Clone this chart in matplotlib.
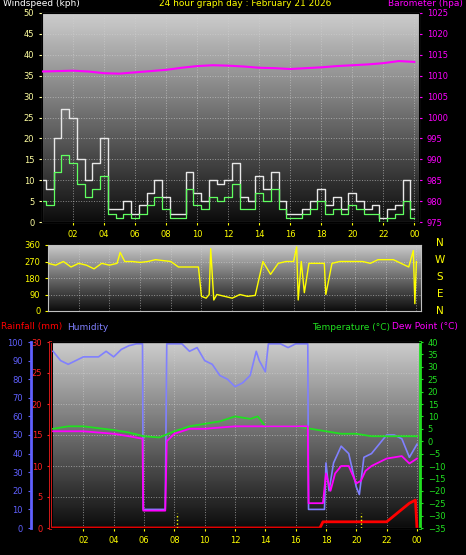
import numpy as np
import matplotlib.pyplot as plt

# ---- wind speed (kph), half-hour samples
wind_t = [i * 0.5 for i in range(49)]
gust = [10, 8, 20, 27, 25, 15, 10, 14, 20, 3, 3, 5, 2, 4, 7, 10, 6, 2, 2, 12,
        7, 5, 10, 9, 10, 14, 6, 5, 11, 8, 12, 5, 2, 2, 3, 5, 8, 4, 6, 3,
        7, 5, 3, 4, 1, 3, 4, 10, 3]
avg = [5, 4, 12, 16, 14, 9, 6, 8, 11, 2, 1, 2, 1, 2, 4, 6, 3, 1, 1, 8,
       4, 3, 6, 5, 6, 9, 3, 3, 7, 5, 8, 3, 1, 1, 2, 3, 5, 2, 3, 2,
       4, 3, 2, 2, 0, 1, 2, 5, 1]
baro_t = list(range(25))
baro = [1011.0, 1011.1, 1011.2, 1011.0, 1010.6, 1010.5, 1010.8, 1011.1, 1011.4,
        1011.9, 1012.3, 1012.5, 1012.4, 1012.2, 1011.9, 1011.8, 1011.6, 1011.8,
        1012.0, 1012.3, 1012.5, 1012.7, 1013.0, 1013.5, 1013.3]

# ---- wind direction (deg)
dir_t = [0, 0.5, 1, 1.5, 2, 2.5, 3, 3.5, 4, 4.5, 4.7, 5, 5.5, 6, 6.5, 7, 7.5, 8, 8.5,
         9, 9.5, 9.8, 10, 10.3, 10.5, 10.6, 10.8, 11, 11.5, 12, 12.5, 13, 13.5, 14,
         14.5, 15, 15.5, 16, 16.2, 16.3, 16.5, 16.7, 17, 17.5, 18, 18.1, 18.5, 19,
         19.5, 20, 20.5, 21, 21.5, 22, 22.5, 23, 23.5, 23.7, 23.8, 23.9, 24]
wdir = [260, 250, 270, 240, 260, 250, 230, 260, 250, 260, 320, 270, 270, 265, 270,
        280, 275, 270, 240, 240, 240, 240, 80, 70, 90, 340, 60, 90, 80, 70, 90, 80,
        85, 270, 200, 260, 270, 270, 350, 60, 270, 100, 260, 260, 260, 90, 260, 270,
        270, 270, 270, 260, 280, 280, 280, 260, 240, 300, 330, 40, 270]

# ---- humidity (%), temperature / dew point (C), rain (mm)
hum_t = [0, 0.5, 1, 2, 3, 3.5, 4, 4.5, 5, 5.5, 5.9, 5.95, 7.4, 7.5, 8.5, 9, 9.5, 10,
         10.5, 11, 11.5, 12, 12.5, 13, 13.4, 13.6, 14, 14.2, 15, 15.5, 16, 16.8,
         16.85, 17.9, 18, 18.2, 18.5, 19, 19.5, 20, 20.2, 20.5, 21, 21.5, 22, 22.5,
         23, 23.5, 24]
hum = [95, 90, 88, 92, 92, 95, 92, 96, 98, 99, 99, 10, 10, 99, 99, 95, 97, 90,
       88, 82, 80, 76, 78, 82, 95, 90, 84, 99, 99, 97, 99, 99, 10, 10, 35, 20, 35,
       44, 40, 22, 18, 38, 40, 45, 50, 50, 48, 38, 45]
dew_t = [0, 2, 4, 5, 5.9, 5.95, 7, 7.4, 7.5, 8, 9, 10, 12, 14, 16.8, 16.85, 17.8,
         18, 18.3, 18.6, 19, 19.5, 20, 20.3, 20.6, 21, 22, 23, 23.5, 24]
dew = [4, 4, 3, 2, 1, -28, -28, -28, 0, 3, 5, 5, 6, 6, 6, -25, -25, -13, -20, -13,
       -10, -10, -17, -16, -12, -10, -7, -6, -9, -7]
temp_t = [0, 1, 2, 4, 5, 6, 7, 8, 9, 10, 11, 12, 13, 13.5, 14, 16, 17, 18, 19, 20,
          21, 22, 23, 24]
temp = [5, 6, 6, 4.5, 3.5, 2, 1.5, 4, 6, 7, 8, 10, 9, 10, 6, 6, 5, 4, 3, 3, 2, 2,
        2, 2]
rain_t = [0, 17.6, 17.8, 22, 22.5, 23, 23.5, 23.9, 24]
rain = [0, 0, 1, 1, 2, 3, 4, 4.5, 0]

hour_ticks = list(range(2, 25, 2))
hour_labels = ["%02d" % (h % 24) for h in hour_ticks]

W, H = 466, 555
fig = plt.figure(figsize=(W / 100, H / 100), dpi=100, facecolor='black')
FS = 6


def add_ax(x0, y0, x1, y1):
    return fig.add_axes([x0 / W, 1 - y1 / H, (x1 - x0) / W, (y1 - y0) / H])


def style(ax, xmax=24.3):
    ax.set_facecolor('black')
    grad = np.linspace(0.8, 0.05, 100).reshape(-1, 1)
    ax.imshow(grad, cmap='gray', vmin=0, vmax=1, aspect='auto',
              extent=[0, xmax, 0, 1], transform=ax.get_xaxis_transform(), zorder=0)
    ax.set_xlim(0, xmax)
    ax.grid(True, color='#d0d0d0', ls=':', lw=0.7, alpha=0.6)
    for s in ax.spines.values():
        s.set_color('#c0c0c0')
    ax.tick_params(colors='#ffff00', labelsize=FS, length=2)
    ax.set_xticks(hour_ticks)


# ---- panel 1
ax1 = add_ax(42, 13, 419, 222)
style(ax1)
ax1.plot(wind_t, gust, drawstyle='steps-mid', color='#e8e8e8', lw=1.0, zorder=3)
ax1.plot(wind_t, avg, drawstyle='steps-mid', color='#60ff60', lw=0.9, zorder=4)
ax1.set_ylim(0, 50)
ax1.set_yticks(range(0, 51, 5))
ax1.set_xticklabels(hour_labels)
ax1.tick_params(axis='y', colors='#ffffa0')
ax1b = ax1.twinx()
ax1b.plot(baro_t, baro, color='#ff00ff', lw=1.5, zorder=3)
ax1b.set_ylim(975, 1025)
ax1b.set_yticks(range(975, 1026, 5))
ax1b.tick_params(colors='#ff00ff', labelsize=FS, length=2)
fig.text(3 / W, 1 - 4 / H, "Windspeed (kph)", color='white', fontsize=6.5, va='center')
fig.text(245 / W, 1 - 4 / H, "24 hour graph day : February 21 2026", color='#ffff00',
         fontsize=6.5, va='center', ha='center')
fig.text(463 / W, 1 - 4 / H, "Barometer (hpa)", color='#ff00ff', fontsize=6.5,
         va='center', ha='right')

# ---- panel 2
ax2 = add_ax(48, 245, 421, 311)
style(ax2)
ax2.plot(dir_t, wdir, color='#ffff00', lw=1.0, zorder=3)
ax2.set_ylim(0, 360)
ax2.set_yticks([0, 90, 180, 270, 360])
ax2.set_xticklabels([])
ax2.tick_params(axis='x', length=0)
for lab, y in zip("NWSEN", [243, 260, 277, 294, 311]):
    fig.text(440 / W, 1 - y / H, lab, color='#ffff00', fontsize=7.5, va='center',
             ha='center')

# ---- panel 3
ax3 = add_ax(50, 342, 420, 528)
style(ax3)
ax3.set_xlim(-0.2, 24.2)
ax3.plot(hum_t, hum, color='#8080ff', lw=1.2, zorder=3)
ax3.set_ylim(0, 100)
ax3.set_xticklabels(hour_labels)
ax3.tick_params(axis='y', colors='#ff2020')
ax3.set_yticks([v * 100 / 30 for v in range(0, 31, 5)])
ax3.set_yticklabels([str(v) for v in range(0, 31, 5)])
ax3.spines['left'].set_color('#ff2020')
ax3.spines['left'].set_linewidth(2)

axr = ax3.twinx()
axr.set_ylim(0, 30)
axr.plot(rain_t, rain, color='#ff0000', lw=2, zorder=3)
axr.set_yticks([])
axr.spines['right'].set_visible(False)

axh = ax3.twinx()
axh.spines['right'].set_visible(False)
axh.spines['left'].set_visible(True)
axh.spines['left'].set_position(('outward', 14))
axh.spines['left'].set_color('#6060ff')
axh.spines['left'].set_linewidth(2)
axh.yaxis.set_ticks_position('left')
axh.set_ylim(0, 100)
axh.set_yticks(range(0, 101, 10))
axh.tick_params(colors='#6060ff', labelsize=FS, length=2)

axt = ax3.twinx()
axt.plot(temp_t, temp, color='#20e020', lw=1.3, zorder=3)
axt.plot(dew_t, dew, color='#ff00ff', lw=1.3, zorder=3)
axt.set_ylim(-35, 40)
axt.set_yticks(range(-35, 41, 5))
axt.tick_params(colors='#20e020', labelsize=FS, length=2)
axt.spines['right'].set_color('#20e020')
axt.spines['right'].set_linewidth(2)
for xv in (8.2, 20.3):
    axt.plot([xv, xv], [-35, -29], color='#ffff00', ls=':', lw=1)

fig.text(1 / W, 1 - 327 / H, "Rainfall (mm)", color='#ff0000', fontsize=6.5, va='center')
fig.text(67 / W, 1 - 327 / H, "Humidity", color='#8080ff', fontsize=6.5, va='center')
fig.text(312 / W, 1 - 327 / H, "Temperature (\u00b0C)", color='#20e020', fontsize=6.5,
         va='center')
fig.text(392 / W, 1 - 327 / H, "Dew Point (\u00b0C)", color='#ff00ff', fontsize=6.5,
         va='center')

fig.savefig('out.png', dpi=100, facecolor='black')
